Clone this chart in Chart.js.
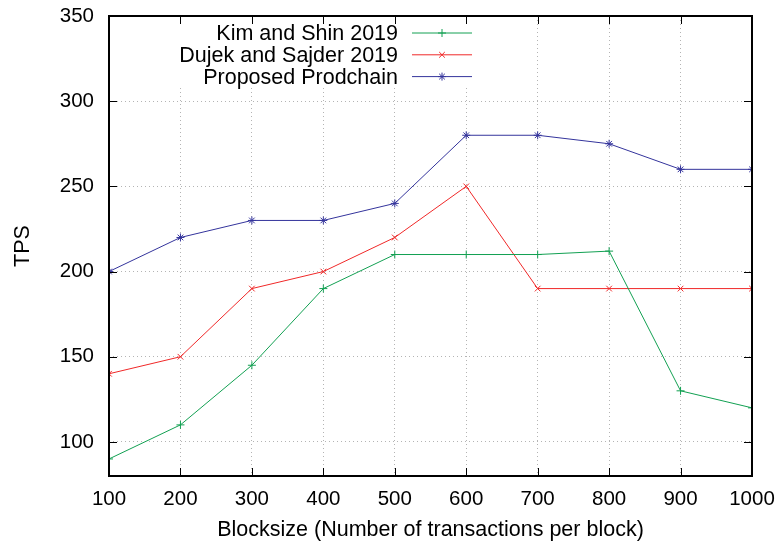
<!DOCTYPE html>
<html>
<head>
<meta charset="utf-8">
<script src="https://cdn.jsdelivr.net/npm/chart.js@4"></script>
<style>
  html, body { margin: 0; padding: 0; background: #fff; }
  #wrap { width: 780px; height: 545px; }
</style>
</head>
<body>
<div id="wrap"><canvas id="grafico" width="780" height="545"></canvas></div>
<script>
// --- dados ---
const BLOCKSIZES = [100, 200, 300, 400, 500, 600, 700, 800, 900, 1000];
const KIM_SHIN = [90, 110, 145, 190, 210, 210, 210, 212, 130, 120];
const DUJEK_SAJDER = [140, 150, 190, 200, 220, 250, 190, 190, 190, 190];
const PRODCHAIN = [200, 220, 230, 230, 240, 280, 280, 275, 260, 260];
const SERIES_NAMES = ['Kim and Shin 2019', 'Dujek and Sajder 2019', 'Proposed Prodchain'];
const Y_TICKS = [100, 150, 200, 250, 300, 350];

const FONT = '"Liberation Sans", Arial, sans-serif';
const CORES = ['#12a052', '#f02828', '#34349c'];
const MARCADORES = ['cross', 'crossRot', 'star'];

const toXY = arr => arr.map((v, i) => ({ x: BLOCKSIZES[i], y: v }));

// moldura, ticks internos e legenda no estilo gnuplot
const gnuplotPlugin = {
  id: 'gnuplot',
  beforeDatasetsDraw(chart) {
    // limpa a área da legenda (grade não passa por trás)
    const ctx = chart.ctx;
    ctx.save();
    ctx.fillStyle = '#fff';
    ctx.fillRect(170, 18, 310, 70);
    ctx.restore();
  },
  afterDraw(chart) {
    const { ctx, chartArea: a, scales } = chart;
    ctx.save();
    ctx.strokeStyle = '#000';
    ctx.lineWidth = 1;
    const t = 8;
    BLOCKSIZES.forEach(v => {
      const px = Math.round(scales.x.getPixelForValue(v)) + 0.5;
      ctx.beginPath();
      ctx.moveTo(px, a.bottom); ctx.lineTo(px, a.bottom - t);
      ctx.moveTo(px, a.top); ctx.lineTo(px, a.top + t);
      ctx.stroke();
    });
    Y_TICKS.forEach(v => {
      const py = Math.round(scales.y.getPixelForValue(v)) + 0.5;
      ctx.beginPath();
      ctx.moveTo(a.left, py); ctx.lineTo(a.left + t, py);
      ctx.moveTo(a.right, py); ctx.lineTo(a.right - t, py);
      ctx.stroke();
    });
    ctx.lineWidth = 2;
    ctx.strokeRect(a.left, a.top, a.right - a.left, a.bottom - a.top);

    // legenda
    ctx.font = '21.5px ' + FONT;
    ctx.textAlign = 'right';
    ctx.textBaseline = 'middle';
    SERIES_NAMES.forEach((nome, i) => {
      const y = 33 + i * 21.8;
      ctx.fillStyle = '#000';
      ctx.fillText(nome, 398, y + 1);
      ctx.strokeStyle = CORES[i];
      ctx.lineWidth = 1;
      ctx.beginPath();
      ctx.moveTo(412, y); ctx.lineTo(472, y);
      ctx.stroke();
      Chart.helpers.drawPoint(ctx, {
        pointStyle: MARCADORES[i], radius: 4, borderWidth: 1, rotation: 0
      }, 442, y);
    });
    ctx.restore();
  }
};

const datasets = [KIM_SHIN, DUJEK_SAJDER, PRODCHAIN].map((serie, i) => ({
  label: SERIES_NAMES[i],
  data: toXY(serie),
  borderColor: CORES[i],
  backgroundColor: CORES[i],
  borderWidth: 1,
  pointStyle: MARCADORES[i],
  pointRadius: 4,
  pointBorderWidth: 1,
  tension: 0
}));

new Chart(document.getElementById('grafico'), {
  type: 'line',
  data: { datasets },
  options: {
    responsive: false,
    animation: false,
    events: [],
    layout: { padding: { top: 16, right: 28, left: 0, bottom: 0 } },
    plugins: { legend: { display: false }, tooltip: { enabled: false } },
    scales: {
      x: {
        type: 'linear',
        min: 100, max: 1000,
        afterBuildTicks: s => { s.ticks = BLOCKSIZES.map(v => ({ value: v })); },
        afterFit: s => { s.height = 69; s.paddingLeft = 0; s.paddingRight = 0; },
        ticks: { color: '#000', font: { family: FONT, size: 20.5 }, padding: 11, maxRotation: 0,
                 callback: v => String(v) },
        grid: { color: '#b4b4b4', drawTicks: false, lineWidth: 1 },
        border: { display: false, dash: [1, 3] },
        title: { display: true, text: 'Blocksize (Number of transactions per block)', color: '#000',
                 font: { family: FONT, size: 21.5 }, padding: { top: 4, bottom: 2 } }
      },
      y: {
        min: 80, max: 350,
        afterBuildTicks: s => { s.ticks = Y_TICKS.map(v => ({ value: v })); },
        afterFit: s => { s.width = 109; s.paddingTop = 0; s.paddingBottom = 0; },
        ticks: { color: '#000', font: { family: FONT, size: 20.5 }, padding: 15 },
        grid: { color: '#b4b4b4', drawTicks: false, lineWidth: 1 },
        border: { display: false, dash: [1, 3] },
        title: { display: true, text: 'TPS', color: '#000', font: { family: FONT, size: 21.5 }, padding: { top: 10, bottom: 0 } }
      }
    }
  },
  plugins: [gnuplotPlugin]
});
</script>
</body>
</html>
